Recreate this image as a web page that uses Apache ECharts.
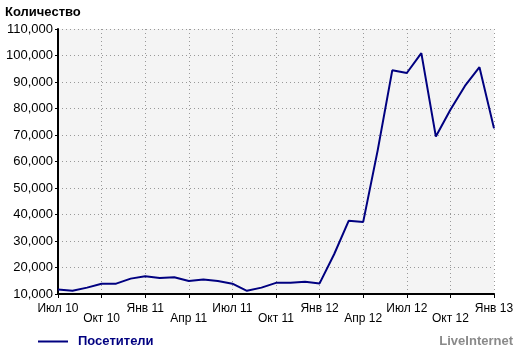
<!DOCTYPE html>
<html>
<head>
<meta charset="utf-8">
<script src="https://cdn.jsdelivr.net/npm/echarts@6/dist/echarts.min.js"></script>
<style>
  html, body { margin: 0; padding: 0; background: #fff; }
  #chart-root { width: 520px; height: 353px; }
</style>
</head>
<body>
<div id="chart-root"></div>
<script>
const months = [
  'Июл 10', 'Авг 10', 'Сен 10', 'Окт 10', 'Ноя 10', 'Дек 10',
  'Янв 11', 'Фев 11', 'Мар 11', 'Апр 11', 'Май 11', 'Июн 11',
  'Июл 11', 'Авг 11', 'Сен 11', 'Окт 11', 'Ноя 11', 'Дек 11',
  'Янв 12', 'Фев 12', 'Мар 12', 'Апр 12', 'Май 12', 'Июн 12',
  'Июл 12', 'Авг 12', 'Сен 12', 'Окт 12', 'Ноя 12', 'Дек 12',
  'Янв 13'
];
const visitors = [
  11700, 11200, 12400, 13900, 13900, 15800,
  16700, 16000, 16300, 14900, 15500, 14900,
  13900, 11200, 12400, 14200, 14200, 14600,
  14000, 25000, 37600, 37200, 64300, 94400,
  93400, 100900, 69400, 79500, 88500, 95600,
  72500
];
const yTicks = { min: 10000, max: 110000, step: 10000 };

const labelFont = 'Arial, "Liberation Sans", sans-serif';
const chart = echarts.init(document.getElementById('chart-root'));

chart.setOption({
  animation: false,
  backgroundColor: '#ffffff',
  title: [
    {
      text: 'Количество',
      left: 5, top: 6, padding: 0,
      textStyle: { fontFamily: labelFont, fontSize: 13, fontWeight: 'bold', color: '#000' }
    },
    {
      text: 'LiveInternet',
      right: 7, top: 335, padding: 0,
      textStyle: { fontFamily: labelFont, fontSize: 13, fontWeight: 'bold', color: '#8a8a8a' }
    }
  ],
  legend: {
    left: 38, top: 335, padding: 0,
    icon: 'rect',
    itemWidth: 30, itemHeight: 2, itemGap: 10,
    textStyle: { fontFamily: labelFont, fontSize: 13, fontWeight: 'bold', color: '#000080', padding: [0, 0, 0, 5] },
    data: ['Посетители']
  },
  grid: {
    left: 58, right: 26, top: 29, bottom: 59,
    show: true, backgroundColor: '#f4f4f4', borderWidth: 0
  },
  xAxis: {
    type: 'category',
    data: months,
    boundaryGap: false,
    axisLine: { lineStyle: { color: '#000', width: 2 } },
    axisTick: { interval: 2, length: 4, lineStyle: { color: '#000', width: 1 } },
    axisLabel: {
      interval: 2,
      margin: 10,
      lineHeight: 10,
      fontFamily: labelFont, fontSize: 12, color: '#000',
      formatter: function (value, index) {
        return (index / 3) % 2 === 1 ? '\n' + value : value;
      }
    },
    splitLine: { show: true, interval: 2, lineStyle: { color: '#999', type: [1, 3], width: 1 } }
  },
  yAxis: {
    type: 'value',
    min: yTicks.min, max: yTicks.max, interval: yTicks.step,
    axisLine: { show: true, lineStyle: { color: '#000', width: 2 } },
    axisTick: { show: true, length: 3, lineStyle: { color: '#000' } },
    axisLabel: {
      margin: 5,
      fontFamily: labelFont, fontSize: 13, color: '#000',
      formatter: function (v) { return v.toLocaleString('en-US'); }
    },
    splitLine: { show: true, lineStyle: { color: '#999', type: [1, 3], width: 1 } }
  },
  series: [
    {
      name: 'Посетители',
      type: 'line',
      data: visitors,
      symbol: 'none',
      lineStyle: { color: '#000080', width: 2 },
      itemStyle: { color: '#000080' }
    }
  ]
});
</script>
</body>
</html>
